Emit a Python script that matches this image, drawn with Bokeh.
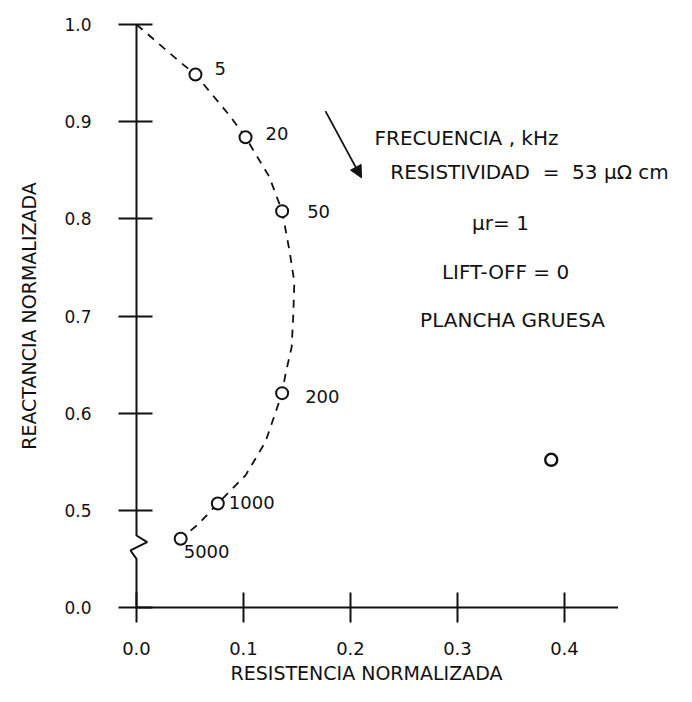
from bokeh.plotting import figure
from bokeh.models import Range1d, FixedTicker, Arrow, NormalHead, ColumnDataSource
from bokeh.core.properties import value
from bokeh.embed import file_html
from bokeh.resources import INLINE

# ---------------- data ----------------
# dashed impedance locus (normalised resistance, normalised reactance)
curve_r = [0.000, 0.040, 0.0551, 0.088, 0.1019, 0.124, 0.1361, 0.143, 0.1475,
           0.1465, 0.145, 0.1393, 0.1361, 0.1206, 0.1019, 0.076, 0.057, 0.0413]
curve_x = [1.000, 0.962, 0.9485, 0.905, 0.884, 0.8435, 0.8079, 0.767, 0.735,
           0.700, 0.668, 0.6405, 0.6206, 0.5706, 0.536, 0.507, 0.485, 0.4707]

# marked frequencies (kHz)
freq_labels = ["5", "20", "50", "200", "1000", "5000"]
freq_r = [0.0551, 0.1019, 0.1361, 0.1361, 0.076, 0.0413]
freq_x = [0.9485, 0.884, 0.8079, 0.6206, 0.507, 0.4707]
label_dx = [19, 20, 25, 23, 11, 3]
label_dy = [-6, -4, 0, 3, -1, 13]

# isolated point
lone_r = [0.3876]
lone_x = [0.552]

# axes
x_ticks = [0.0, 0.1, 0.2, 0.3, 0.4]
x_tick_labels = ["0.0", "0.1", "0.2", "0.3", "0.4"]
y_ticks = [0.4, 0.5, 0.6, 0.7, 0.8, 0.9, 1.0]          # 0.4 position carries the "0.0" of the broken axis
y_tick_labels = ["0.0", "0.5", "0.6", "0.7", "0.8", "0.9", "1.0"]
x_axis_end = 0.45
y_axis_break_r = [0.0, 0.0, 0.0100, -0.0056, 0.0, 0.0]
y_axis_break_x = [1.0, 0.4741, 0.4672, 0.4587, 0.4501, 0.4]

# annotation texts
notes = ["FRECUENCIA , kHz", "RESISTIVIDAD\u00a0 =\u00a0 53 \u03bc\u03a9 cm", "\u03bcr= 1",
         "LIFT-OFF = 0", "PLANCHA GRUESA"]
notes_r = [0.3084, 0.3673, 0.3402, 0.3449, 0.3514]
notes_x = [0.8837, 0.8477, 0.7953, 0.7449, 0.6955]

FONT = "DejaVu Sans"
INK = "#111111"

W, H = 676, 686
X0_PX, PX_PER_X = 136.0, 1070.0      # where resistance 0 sits, pixels per unit
Y1_PX, PX_PER_Y = 24.0, 971.67       # where reactance 1.0 sits, pixels per unit

p = figure(width=W, height=H,
           x_range=Range1d(-X0_PX / PX_PER_X, (W - X0_PX) / PX_PER_X),
           y_range=Range1d(1.0 - (H - Y1_PX) / PX_PER_Y, 1.0 + Y1_PX / PX_PER_Y),
           output_backend="svg", toolbar_location=None,
           min_border_left=0, min_border_right=0, min_border_top=0, min_border_bottom=0)
p.outline_line_color = None
p.xgrid.visible = False
p.ygrid.visible = False
p.background_fill_color = "white"
p.border_fill_color = "white"

for ax, ticks, labels in ((p.xaxis[0], x_ticks, x_tick_labels), (p.yaxis[0], y_ticks, y_tick_labels)):
    ax.ticker = FixedTicker(ticks=ticks)
    ax.major_label_overrides = {t: l for t, l in zip(ticks, labels)}
    ax.axis_line_color = None
    ax.minor_tick_line_color = None
    ax.major_tick_line_color = INK
    ax.major_tick_line_width = 2
    ax.major_label_text_font = FONT
    ax.major_label_text_color = INK
    ax.axis_label_text_font = FONT
    ax.axis_label_text_font_style = "normal"
    ax.axis_label_text_color = INK
    ax.axis_label_text_font_size = "19px"

xa = p.xaxis[0]
xa.fixed_location = 0.4
xa.bounds = (0.0, 0.43)
xa.major_tick_in = 15
xa.major_tick_out = 15
xa.major_label_text_font_size = "18px"
xa.major_label_standoff = 19
xa.axis_label = "RESISTENCIA NORMALIZADA"
xa.axis_label_standoff = 4

ya = p.yaxis[0]
ya.fixed_location = 0.0
ya.bounds = (0.4, 1.0)
ya.major_tick_in = 16
ya.major_tick_out = 18
ya.major_label_text_font_size = "17px"
ya.major_label_standoff = 27
ya.axis_label = "REACTANCIA NORMALIZADA"
ya.axis_label_standoff = 21

# axis lines (with break on the reactance axis)
p.line([0.0, x_axis_end], [0.4, 0.4], line_color=INK, line_width=2)
p.line(y_axis_break_r, y_axis_break_x, line_color=INK, line_width=2)

# locus
p.line(curve_r, curve_x, line_color=INK, line_width=1.8, line_dash="8 7")

# points
p.scatter(freq_r, freq_x, marker="circle", size=12, fill_color="white",
          line_color=INK, line_width=2)
p.scatter(lone_r, lone_x, marker="circle", size=12, fill_color="white",
          line_color=INK, line_width=2.4)

src = ColumnDataSource(dict(x=freq_r, y=freq_x, t=freq_labels, dx=label_dx, dy=label_dy))
p.text(x="x", y="y", text="t", x_offset="dx", y_offset="dy", source=src,
       text_font=value(FONT), text_font_size=value("18px"), text_color=INK,
       text_align="left", text_baseline="middle")

p.text(x=notes_r, y=notes_x, text=notes, text_font=value(FONT),
       text_font_size=value("20px"), text_color=INK,
       text_align="center", text_baseline="middle")

p.add_layout(Arrow(end=NormalHead(size=12, fill_color=INK, line_color=INK),
                   x_start=0.1766, y_start=0.9108, x_end=0.2103, y_end=0.8422,
                   line_color=INK, line_width=1.8))

open("out.html", "w").write(file_html(p, INLINE))
